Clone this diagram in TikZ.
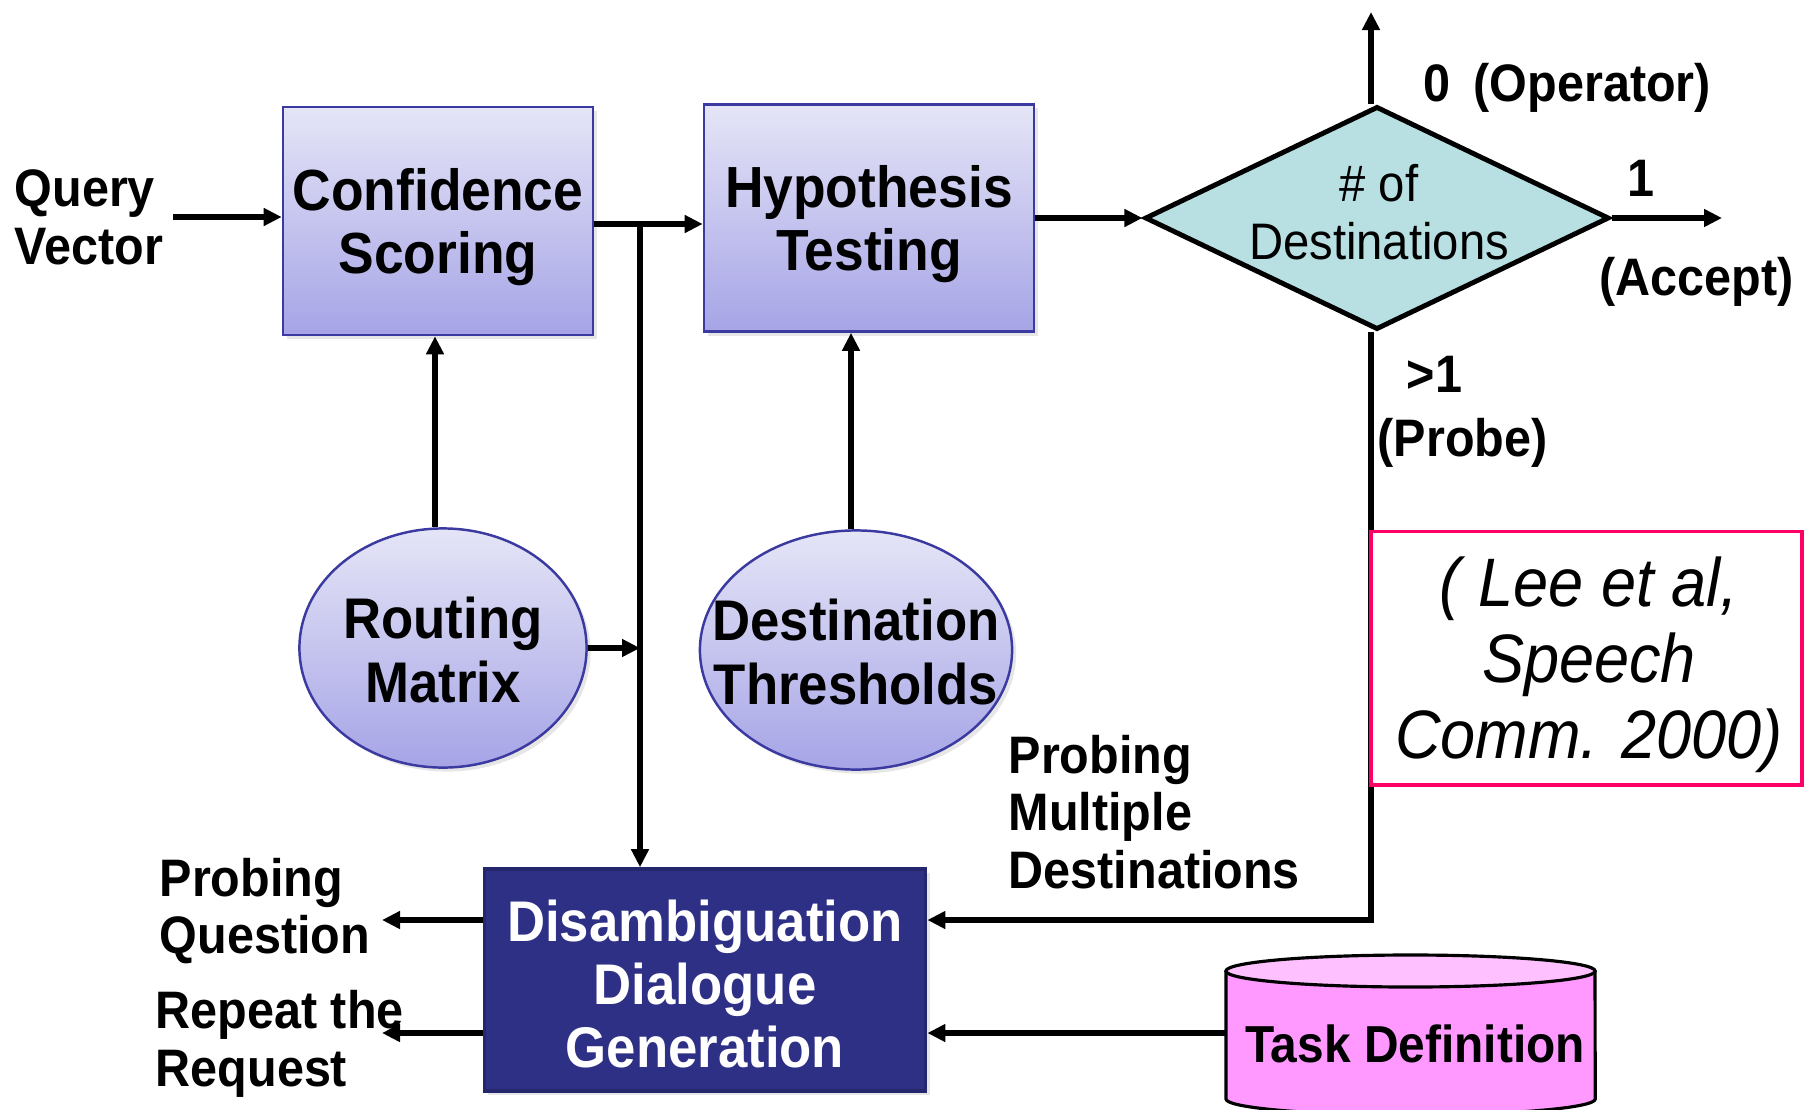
\documentclass[tikz,border=0pt]{standalone}
\usepackage{fontspec}
\setmainfont[FakeStretch=0.92]{Liberation Sans}
\usetikzlibrary{arrows.meta,shapes.geometric,shadows,calc}
\definecolor{boxtop}{RGB}{229,229,247}
\definecolor{boxbot}{RGB}{166,164,230}
\definecolor{boxline}{RGB}{58,58,160}
\definecolor{navyfill}{RGB}{46,48,134}
\definecolor{navyline}{RGB}{36,38,110}
\definecolor{diafill}{RGB}{184,224,226}
\definecolor{citered}{RGB}{255,0,102}
\definecolor{cylbody}{RGB}{255,153,255}
\definecolor{cyltop}{RGB}{255,192,255}
\tikzset{
  conn/.style={line width=1.45pt,-{Triangle[length=0.18cm,width=0.17cm]}},
  bluebox/.style={rectangle,draw=boxline,line width=0.7pt,top color=boxtop,bottom color=boxbot,
    drop shadow={opacity=0.2,shadow xshift=0.04cm,shadow yshift=-0.04cm},inner sep=0pt},
  boxtext/.style={font=\bfseries\fontsize{16.5}{18}\selectfont,align=center,inner sep=0pt},
  blueell/.style={ellipse,draw=boxline,line width=0.7pt,top color=boxtop,bottom color=boxbot,
    drop shadow={opacity=0.2,shadow xshift=0.04cm,shadow yshift=-0.04cm},inner sep=0pt},
  elltext/.style={font=\bfseries\fontsize{16.3}{18}\selectfont,align=center,inner sep=0pt},
  sidelabel/.style={font=\bfseries\fontsize{15}{16.4}\selectfont,align=left,anchor=west,inner sep=0pt},
  darkbox/.style={rectangle,draw=navyline,line width=1pt,fill=navyfill,
    drop shadow={opacity=0.2,shadow xshift=0.04cm,shadow yshift=-0.04cm},inner sep=0pt},
}
\begin{document}
\begin{tikzpicture}[x=0.01cm,y=-0.01cm]
\useasboundingbox (0,0) rectangle (1804,1109);

% main blocks
\node[bluebox,minimum width=3.10cm,minimum height=2.28cm] (conf) at (438,221) {};
\node[boxtext] (conftxt) at (438,227) {Confidence\\Scoring};
\node[bluebox,minimum width=3.30cm,minimum height=2.27cm] (hyp) at (869,218) {};
\node[boxtext] (hyptxt) at (869,224) {Hypothesis\\Testing};
\node[diamond,draw,line width=1.4pt,fill=diafill,minimum width=4.64cm,minimum height=2.23cm,inner sep=0pt] (dia) at (1377,218) {};
\node[font=\fontsize{14.6}{16.4}\selectfont,align=center,inner sep=0pt] (diatxt) at (1379,212) {\# of\\Destinations};

\node[blueell,minimum width=2.87cm,minimum height=2.39cm] (rout) at (443,648) {};
\node[elltext] (routtxt) at (443,650) {Routing\\Matrix};
\node[blueell,minimum width=3.12cm,minimum height=2.39cm] (dest) at (856,650) {};
\node[elltext] (desttxt) at (856,652) {Destination\\Thresholds};

\node[darkbox,minimum width=4.41cm,minimum height=2.22cm] (dis) at (705,980) {};
\node[font=\bfseries\fontsize{16.3}{18}\selectfont,text=white,align=center,inner sep=0pt] (distxt) at (705,984) {Disambiguation\\Dialogue\\Generation};

% cylinder (Task Definition)
\fill[cylbody] (1226,971) -- (1226,1099) arc[start angle=180,end angle=360,x radius=1.845cm,y radius=0.16cm]
  -- (1595,971) arc[start angle=0,end angle=180,x radius=1.845cm,y radius=0.16cm] -- cycle;
\draw[line width=0.9pt] (1226,971) -- (1226,1099) arc[start angle=180,end angle=360,x radius=1.845cm,y radius=0.16cm] -- (1595,971);
\filldraw[fill=cyltop,line width=0.9pt] (1410.5,971) ellipse[x radius=1.845cm,y radius=0.16cm];
\node[font=\bfseries\fontsize{14.8}{16}\selectfont,inner sep=0pt] (cyl) at (1415,1044) {Task Definition};
\coordinate (cylw) at (1226,1033);

% coordinates for free ends
\coordinate (J) at (640,224);
\coordinate (qv) at (173,217);
\coordinate (vx) at (1371,0);
\coordinate (rx) at (435,0);
\coordinate (dx) at (851,0);
\coordinate (topend) at (1371,12);
\coordinate (accend) at (1722,215);
\coordinate (corner) at (1371,920);
\coordinate (pq) at (382,920);
\coordinate (rr) at (382,1033);

% connectors
\draw[conn] (qv) -- (qv -| conf.west);
\draw[conn] (conf.east |- J) -- (J -| hyp.west);
\draw[conn] (J) -- (J |- dis.north);
\draw[conn] (rout.east) -- (rout.east -| J);
\draw[conn] (rout.north -| rx) -- (rx |- conf.south);
\draw[conn] (dest.north -| dx) -- (dx |- hyp.south);
\draw[conn] (hyp.east) -- (hyp.east -| dia.west);
\draw[conn] (dia.north -| vx) -- (topend);
\draw[conn] (dia.east) -- (dia.east -| accend);
\draw[conn] (dia.south -| vx) |- (corner -| dis.east);
\draw[conn] (cylw) -- (cylw -| dis.east);
\draw[conn] (dis.west |- pq) -- (pq);
\draw[conn] (dis.west |- rr) -- (rr);

% citation box
\node[draw=citered,fill=white,line width=1.1pt,minimum width=4.31cm,minimum height=2.53cm,inner sep=0pt] (cite) at (1586.5,658) {};
\node[font=\itshape\fontsize{19.5}{21.6}\selectfont,align=center,inner sep=0pt] (citetxt) at (1589,665) {( Lee et al,\\Speech\\Comm. 2000)};

% labels
\node[sidelabel] (qvl) at (14,217) {Query\\Vector};
\node[sidelabel] (pql) at (159,911) {Probing\\Question};
\node[sidelabel] (rrl) at (155,1044) {Repeat the\\Request};
\node[sidelabel] (pml) at (1008,812) {Probing\\Multiple\\Destinations};
\node[sidelabel] (opl) at (1423,88) {0\hspace{0.23cm}(Operator)};
\node[sidelabel] (onel) at (1627,178) {1};
\node[sidelabel] (accl) at (1599,282) {(Accept)};
\node[sidelabel] (gtl) at (1406,374) {>1};
\node[sidelabel] (prl) at (1377,443) {(Probe)};
\end{tikzpicture}
\end{document}
